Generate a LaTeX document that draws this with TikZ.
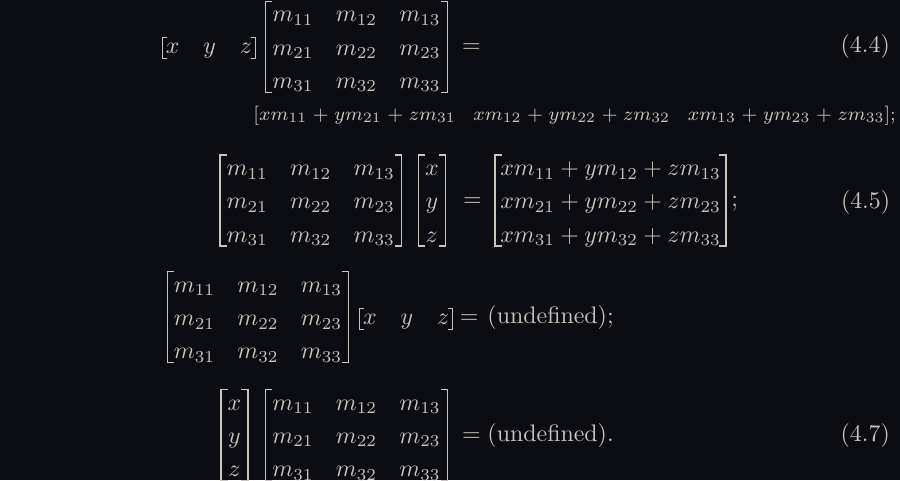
\documentclass[tikz,border=0pt]{standalone}
\usepackage{amsmath}
\usetikzlibrary{matrix}
\definecolor{bgcol}{RGB}{11,13,18}
\definecolor{inkcol}{RGB}{201,197,189}
\tikzstyle{mat} = [matrix of math nodes, anchor=west, inner xsep=2.6pt, inner ysep=0pt,
    column sep=9.3pt, row sep=4.13pt, nodes={inner sep=0pt, text height=8.37pt, text depth=1.43pt}]
\tikzstyle{rowvec} = [matrix of math nodes, anchor=west, inner xsep=1.3pt, inner ysep=0pt,
    column sep=10pt, nodes={inner sep=0pt, text height=6.3pt, text depth=2.1pt}]
\tikzstyle{txt} = [inner sep=0pt, anchor=base west]
\tikzstyle{tag} = [inner sep=0pt, anchor=base east]
\tikzstyle{brk} = [draw, line width=0.5pt]

\begin{document}
\begin{tikzpicture}[x=0.41841pt, y=-0.41841pt, color=inkcol]
    \path [use as bounding box, fill=bgcol] (0,0) rectangle (900,480);
    % Place nodes
    % (4.4)
    \matrix [rowvec] (rowA) at (162.3,48) {x & y & z \\};
    \matrix [mat] (matA) at (265.7,46.7) {
        m_{11} & m_{12} & m_{13} \\
        m_{21} & m_{22} & m_{23} \\
        m_{31} & m_{32} & m_{33} \\};
    \node [txt] (eqA) at (461.7,52.7) {$=$};
    \node [tag] (tagA) at (890.3,52.7) {(4.4)};
    \node [txt, font=\footnotesize] (prodA) at (253,120) {$\medmuskip=5mu\relax
        [xm_{11}+ym_{21}+zm_{31}\hskip7.4pt xm_{12}+ym_{22}+zm_{32}\hskip7.4pt xm_{13}+ym_{23}+zm_{33}]$;};
    % (4.5)
    \matrix [mat] (matB) at (220,200.5) {
        m_{11} & m_{12} & m_{13} \\
        m_{21} & m_{22} & m_{23} \\
        m_{31} & m_{32} & m_{33} \\};
    \matrix [mat] (colB) at (418.3,200.5) {x \\ y \\ z \\};
    \node [txt] (eqB) at (462.7,206.5) {$=$};
    \matrix [mat, inner xsep=2pt] (resB) at (495,200.5) {
        \medmuskip=3mu\relax xm_{11}+ym_{12}+zm_{13} \\
        \medmuskip=3mu\relax xm_{21}+ym_{22}+zm_{23} \\
        \medmuskip=3mu\relax xm_{31}+ym_{32}+zm_{33} \\};
    \node [txt] (semB) at (731,206.5) {;};
    \node [tag] (tagB) at (890.6,208) {(4.5)};
    % unnumbered
    \matrix [mat] (matC) at (167.3,317.2) {
        m_{11} & m_{12} & m_{13} \\
        m_{21} & m_{22} & m_{23} \\
        m_{31} & m_{32} & m_{33} \\};
    \matrix [rowvec] (rowC) at (359.5,319.2) {x & y & z \\};
    \node [txt] (eqC) at (459.5,323.2) {$=$};
    \node [txt] (undC) at (487,323.2) {(undefined);};
    % (4.7)
    \matrix [mat] (colD) at (221,435) {x \\ y \\ z \\};
    \matrix [mat] (matD) at (265.7,435) {
        m_{11} & m_{12} & m_{13} \\
        m_{21} & m_{22} & m_{23} \\
        m_{31} & m_{32} & m_{33} \\};
    \node [txt] (eqD) at (461.7,441) {$=$};
    \node [txt] (undD) at (487,441) {(undefined).};
    \node [tag] (tagD) at (890.3,441) {(4.7)};
    % Draw brackets
    \path [brk] ([xshift=2pt]rowA.north west) -| (rowA.south west) -- ([xshift=2pt]rowA.south west);
    \path [brk] ([xshift=-2pt]rowA.north east) -| (rowA.south east) -- ([xshift=-2pt]rowA.south east);
    \path [brk] ([xshift=2.8pt]matA.north west) -| (matA.south west) -- ([xshift=2.8pt]matA.south west);
    \path [brk] ([xshift=-2.8pt]matA.north east) -| (matA.south east) -- ([xshift=-2.8pt]matA.south east);
    \path [brk] ([xshift=2.8pt]matB.north west) -| (matB.south west) -- ([xshift=2.8pt]matB.south west);
    \path [brk] ([xshift=-2.8pt]matB.north east) -| (matB.south east) -- ([xshift=-2.8pt]matB.south east);
    \path [brk] ([xshift=2.8pt]colB.north west) -| (colB.south west) -- ([xshift=2.8pt]colB.south west);
    \path [brk] ([xshift=-2.8pt]colB.north east) -| (colB.south east) -- ([xshift=-2.8pt]colB.south east);
    \path [brk] ([xshift=2.8pt]resB.north west) -| (resB.south west) -- ([xshift=2.8pt]resB.south west);
    \path [brk] ([xshift=-2.8pt]resB.north east) -| (resB.south east) -- ([xshift=-2.8pt]resB.south east);
    \path [brk] ([xshift=2.8pt]matC.north west) -| (matC.south west) -- ([xshift=2.8pt]matC.south west);
    \path [brk] ([xshift=-2.8pt]matC.north east) -| (matC.south east) -- ([xshift=-2.8pt]matC.south east);
    \path [brk] ([xshift=2pt]rowC.north west) -| (rowC.south west) -- ([xshift=2pt]rowC.south west);
    \path [brk] ([xshift=-2pt]rowC.north east) -| (rowC.south east) -- ([xshift=-2pt]rowC.south east);
    \path [brk] ([xshift=2.8pt]colD.north west) -| (colD.south west) -- ([xshift=2.8pt]colD.south west);
    \path [brk] ([xshift=-2.8pt]colD.north east) -| (colD.south east) -- ([xshift=-2.8pt]colD.south east);
    \path [brk] ([xshift=2.8pt]matD.north west) -| (matD.south west) -- ([xshift=2.8pt]matD.south west);
    \path [brk] ([xshift=-2.8pt]matD.north east) -| (matD.south east) -- ([xshift=-2.8pt]matD.south east);
\end{tikzpicture}
\end{document}
